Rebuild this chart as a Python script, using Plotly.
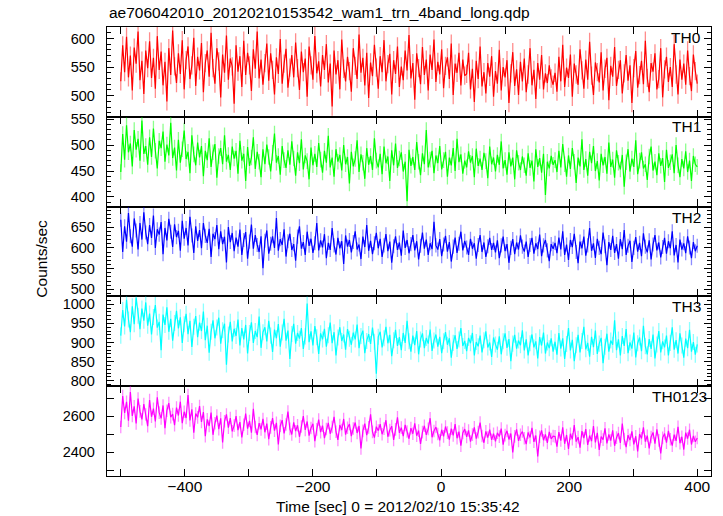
import plotly.graph_objects as go
from plotly.subplots import make_subplots

# ---------------- data ----------------
time_start, time_stop, time_step = -500, 400, 3
time_sec = list(range(time_start, time_stop + 1, time_step))

th0 = [525, 588, 541, 603, 532, 570, 509, 584, 556, 612, 527, 561, 503, 579, 548,
       595, 531, 566, 512, 604, 545, 577, 518, 559, 490, 583, 536, 614, 551, 522,
       574, 538, 597, 511, 562, 586, 529, 553, 601, 517, 568, 544, 592, 506, 557,
       579, 533, 610, 548, 521, 583, 560, 497, 572, 540, 605, 528, 565, 551, 486,
       588, 542, 569, 515, 596, 536, 575, 553, 508, 581, 547, 612, 530, 563, 519,
       557, 591, 526, 574, 545, 502, 567, 538, 599, 521, 556, 582, 514, 549, 571,
       532, 593, 548, 510, 577, 541, 565, 498, 586, 553, 528, 604, 539, 560, 516,
       571, 545, 590, 523, 556, 481, 579, 537, 562, 511, 598, 547, 525, 568, 543,
       507, 583, 552, 529, 607, 540, 566, 518, 575, 496, 558, 534, 589, 549, 512,
       569, 541, 597, 525, 555, 573, 502, 562, 538, 586, 515, 551, 527, 579, 544,
       606, 530, 557, 493, 574, 548, 520, 585, 536, 563, 509, 572, 545, 598, 524,
       559, 537, 581, 513, 552, 567, 529, 591, 501, 556, 540, 575, 518, 563, 535,
       538, 575, 511, 547, 489, 561, 529, 586, 516, 541, 504, 557, 533, 569, 498,
       543, 521, 580, 509, 550, 532, 562, 487, 539, 576, 517, 546, 501, 559, 525,
       565, 506, 537, 583, 518, 545, 494, 557, 528, 571, 511, 539, 522, 553, 530,
       519, 540, 507, 568, 525, 589, 515, 549, 531, 572, 498, 556, 537, 519, 581,
       544, 512, 563, 528, 594, 535, 501, 558, 541, 523, 576, 509, 547, 566, 492,
       552, 533, 585, 517, 545, 562, 504, 539, 571, 526, 553, 487, 548, 578, 514,
       536, 561, 520, 596, 531, 506, 557, 542, 574, 511, 529, 583, 497, 546, 568,
       524, 550, 515, 590, 537, 502, 563, 528, 556, 519, 579, 534, 508, 572, 543,
       521]

th1 = [448, 521, 472, 538, 486, 503, 459, 529, 491, 512, 470, 547, 483, 498, 462,
       515, 477, 532, 489, 455, 508, 494, 526, 468, 501, 480, 543, 475, 495, 451,
       510, 466, 492, 528, 473, 487, 446, 519, 482, 461, 505, 476, 498, 440, 489,
       471, 513, 458, 486, 502, 437, 479, 494, 463, 519, 468, 481, 452, 497, 474,
       489, 445, 508, 470, 483, 431, 496, 460, 476, 515, 454, 487, 468, 438, 492,
       463, 501, 477, 449, 485, 522, 466, 479, 443, 498, 471, 456, 490, 462, 507,
       474, 441, 486, 465, 511, 453, 480, 469, 434, 495, 461, 483, 458, 504, 472,
       447, 489, 466, 518, 457, 476, 439, 492, 468, 481, 451, 500, 463, 477, 426,
       487, 459, 473, 509, 448, 482, 466, 435, 494, 462, 479, 452, 513, 470, 457,
       483, 444, 497, 465, 478, 431, 490, 461, 503, 456, 474, 486, 449, 468, 392,
       491, 460, 477, 452, 506, 468, 442, 484, 463, 529, 457, 472, 489, 446, 480,
       465, 498, 453, 471, 487, 439, 476, 461, 494, 450, 512, 467, 482, 445, 470,
       457, 488, 466, 479, 438, 493, 460, 474, 452, 485, 469, 436, 497, 463, 476,
       449, 481, 462, 507, 455, 471, 443, 486, 459, 476, 434, 490, 466, 452, 478,
       461, 441, 484, 456, 470, 430, 492, 458, 475, 447, 483, 404, 468, 455, 479,
       462, 471, 448, 489, 457, 502, 463, 439, 480, 454, 494, 468, 427, 476, 459,
       511, 452, 473, 441, 487, 465, 498, 450, 469, 432, 483, 461, 477, 445, 505,
       458, 472, 437, 490, 466, 453, 481, 420, 467, 492, 449, 474, 458, 509, 444,
       470, 486, 455, 463, 433, 478, 497, 451, 468, 442, 484, 460, 475, 429, 491,
       456, 467, 482, 446, 500, 461, 438, 473, 455, 488, 448, 470, 431, 479, 463,
       458]

th2 = [668, 590, 652, 615, 684, 628, 603, 671, 642, 596, 660, 620, 686, 637, 609,
       655, 624, 678, 600, 645, 632, 662, 585, 648, 618, 670, 639, 602, 657, 626,
       641, 593, 665, 622, 648, 606, 675, 630, 588, 652, 617, 643, 599, 660, 629,
       612, 646, 578, 634, 621, 655, 597, 640, 609, 627, 565, 650, 614, 636, 592,
       625, 603, 644, 583, 619, 638, 574, 615, 656, 598, 631, 607, 590, 628, 551,
       617, 642, 586, 610, 628, 600, 672, 593, 621, 607, 645, 579, 616, 634, 595,
       609, 569, 627, 652, 598, 614, 583, 639, 605, 622, 588, 611, 660, 594, 618,
       601, 633, 575, 612, 595, 648, 606, 584, 624, 599, 616, 561, 630, 603, 619,
       589, 614, 640, 596, 608, 573, 627, 602, 655, 593, 617, 585, 611, 636, 599,
       622, 578, 606, 633, 592, 615, 564, 604, 628, 595, 613, 581, 642, 600, 619,
       587, 609, 631, 594, 616, 572, 605, 637, 598, 620, 583, 611, 597, 663, 606,
       596, 621, 580, 608, 629, 591, 614, 567, 603, 625, 588, 610, 639, 594, 617,
       601, 583, 622, 598, 611, 574, 607, 631, 590, 613, 578, 604, 624, 595, 612,
       589, 618, 575, 606, 627, 592, 609, 564, 600, 621, 585, 613, 596, 630, 603,
       591, 615, 578, 607, 624, 586, 611, 597, 632, 580, 606, 619, 594, 568, 609,
       598, 612, 587, 625, 596, 640, 583, 608, 571, 619, 602, 634, 590, 563, 615,
       599, 627, 581, 606, 648, 593, 611, 576, 622, 600, 585, 637, 604, 558, 614,
       595, 629, 588, 609, 574, 621, 597, 643, 583, 605, 617, 566, 600, 626, 591,
       612, 580, 635, 603, 589, 618, 572, 608, 631, 594, 613, 577, 602, 624, 586,
       616, 599, 640, 582, 607, 565, 620, 596, 611, 587, 628, 601, 575, 614, 592,
       605]

th3 = [918, 985, 942, 1012, 960, 927, 995, 948, 1018, 970, 935, 989, 957, 1005, 944,
       976, 921, 967, 998, 939, 954, 880, 973, 946, 992, 928, 962, 905, 951, 983,
       937, 966, 899, 948, 975, 922, 957, 888, 941, 969, 914, 952, 930, 981, 906,
       944, 873, 928, 958, 911, 939, 965, 897, 932, 949, 842, 921, 954, 903, 936,
       917, 960, 892, 938, 908, 946, 871, 925, 953, 899, 930, 914, 968, 886, 927,
       940, 903, 957, 918, 875, 934, 911, 948, 889, 926, 962, 905, 931, 857, 922,
       949, 897, 925, 910, 938, 883, 916, 1002, 901, 929, 892, 943, 914, 870, 924,
       908, 936, 889, 919, 952, 898, 927, 866, 913, 940, 904, 921, 881, 935, 910,
       894, 926, 908, 947, 885, 917, 931, 872, 904, 922, 896, 939, 902, 818, 915,
       928, 887, 911, 941, 898, 920, 864, 906, 933, 891, 914, 880, 925, 899, 957,
       903, 876, 918, 893, 930, 869, 908, 924, 885, 912, 897, 934, 878, 905, 921,
       889, 915, 872, 903, 927, 894, 911, 860, 899, 919, 883, 908, 938, 891, 904,
       877, 912, 898, 925, 866, 901, 890, 918, 874, 906, 929, 887, 900, 862, 913,
       895, 881, 916, 869, 903, 924, 886, 909, 851, 897, 920, 884, 905, 893, 932,
       879, 908, 866, 898, 921, 887, 903, 858, 914, 892, 926, 871, 900, 885, 911,
       876, 902, 868, 925, 884, 911, 857, 896, 938, 879, 907, 851, 893, 920, 874,
       904, 941, 882, 899, 863, 915, 888, 931, 870, 897, 912, 846, 889, 923, 876,
       905, 894, 958, 880, 908, 866, 917, 891, 935, 872, 900, 884, 926, 861, 898,
       913, 877, 944, 890, 869, 909, 883, 921, 858, 895, 930, 874, 903, 887, 918,
       866, 899, 940, 881, 906, 871, 924, 892, 860, 910, 885, 933, 876, 901, 868,
       895]

th0123 = [2540, 2712, 2618, 2680, 2575, 2735, 2602, 2655, 2560, 2698, 2627, 2583, 2668, 2610, 2545,
          2690, 2597, 2642, 2571, 2705, 2620, 2588, 2660, 2534, 2631, 2673, 2595, 2612, 2550, 2648,
          2604, 2681, 2562, 2625, 2590, 2718, 2577, 2639, 2508, 2615, 2594, 2657, 2568, 2623, 2489,
          2583, 2546, 2620, 2497, 2561, 2604, 2528, 2589, 2455, 2572, 2610, 2537, 2590, 2516, 2548,
          2601, 2523, 2567, 2482, 2553, 2615, 2531, 2574, 2509, 2642, 2540, 2496, 2562, 2527, 2585,
          2511, 2559, 2473, 2538, 2590, 2520, 2563, 2444, 2547, 2578, 2505, 2554, 2626, 2530, 2499,
          2566, 2517, 2550, 2486, 2543, 2601, 2524, 2571, 2492, 2535, 2558, 2461, 2527, 2582, 2512,
          2548, 2478, 2529, 2563, 2503, 2540, 2597, 2514, 2469, 2551, 2523, 2585, 2498, 2536, 2557,
          2490, 2532, 2565, 2507, 2546, 2421, 2519, 2559, 2495, 2538, 2611, 2513, 2481, 2542, 2520,
          2556, 2500, 2531, 2578, 2486, 2523, 2545, 2469, 2527, 2594, 2508, 2537, 2489, 2552, 2515,
          2475, 2534, 2503, 2561, 2492, 2520, 2446, 2512, 2547, 2497, 2530, 2589, 2483, 2518, 2540,
          2501, 2466, 2525, 2488, 2543, 2509, 2470, 2531, 2494, 2557, 2478, 2515, 2436, 2507, 2529,
          2485, 2521, 2459, 2498, 2538, 2476, 2512, 2565, 2490, 2453, 2516, 2481, 2526, 2469, 2503,
          2460, 2508, 2487, 2531, 2442, 2495, 2519, 2471, 2504, 2399, 2488, 2527, 2463, 2497, 2515,
          2478, 2445, 2510, 2482, 2536, 2458, 2493, 2377, 2486, 2521, 2467, 2499, 2452, 2513, 2474,
          2490, 2488, 2431, 2512, 2465, 2539, 2447, 2496, 2418, 2503, 2472, 2551, 2459, 2484, 2426,
          2517, 2478, 2529, 2441, 2493, 2462, 2545, 2455, 2508, 2413, 2487, 2470, 2533, 2449, 2499,
          2465, 2522, 2436, 2481, 2507, 2452, 2560, 2474, 2428, 2495, 2468, 2516, 2444, 2489, 2405,
          2501, 2477, 2538, 2459, 2492, 2421, 2485, 2510, 2448, 2527, 2466, 2393, 2480, 2504, 2453,
          2519, 2472, 2437, 2498, 2463, 2541, 2450, 2486, 2415, 2509, 2476, 2525, 2443, 2491, 2458,
          2479]

# typical 1-sigma error bar of each band (counts/sec)
panel_errors = [16, 15, 17, 21, 35]

panel_names = ["TH0", "TH1", "TH2", "TH3", "TH0123"]
panel_values = [th0, th1, th2, th3, th0123]
panel_colors = ["#ff0000", "#00ff00", "#0000ff", "#00ffff", "#ff00ff"]
panel_err_colors = ["rgba(255,0,0,0.45)", "rgba(0,255,0,0.45)", "rgba(0,0,255,0.45)",
                    "rgba(0,255,255,0.45)", "rgba(255,0,255,0.45)"]
panel_ranges = [[463, 620], [381.5, 554.4], [483, 699.5], [785.4, 1020.8], [2268, 2767]]
panel_tickvals = [[500, 550, 600], [400, 450, 500, 550], [500, 550, 600, 650],
                  [800, 850, 900, 950, 1000], [2300, 2400, 2500, 2600, 2700]]
panel_ticktext = [["500", "550", "600"], ["400", "450", "500", "550"],
                  ["500", "550", "600", "650"], ["800", "850", "900", "950", "1000"],
                  ["", "2400", "", "2600", ""]]
x_tickvals = [-500, -400, -300, -200, -100, 0, 100, 200, 300, 400]
x_ticktext = ["", "\u2212400", "", "\u2212200", "", "0", "", "200", "", "400"]

title_text = "ae706042010_20120210153542_wam1_trn_4band_long.qdp"
xtitle_text = "Time [sec] 0 = 2012/02/10 15:35:42"
ytitle_text = "Counts/sec"

# ---------------- layout geometry (pixels) ----------------
W, H = 723, 516
L, R, T, B = 106.7, 711.0, 27.3, 476.0
FONT = "Liberation Sans, Arial, Helvetica, sans-serif"


def px_x(x):
    return (x - L) / (R - L)


def px_y(y):
    return (B - y) / (B - T)


fig = make_subplots(rows=5, cols=1, shared_xaxes=True, vertical_spacing=0)

for i, (vals, col) in enumerate(zip(panel_values, panel_colors)):
    fig.add_trace(go.Scatter(x=time_sec, y=vals, mode="lines",
                             line=dict(color=col, width=1.2), showlegend=False,
                             error_y=dict(type="constant", value=panel_errors[i],
                                          color=panel_err_colors[i], thickness=1.3,
                                          width=0),
                             hoverinfo="skip"), row=i + 1, col=1)

axis_common = dict(showline=True, linecolor="#000000", linewidth=1.3, mirror="allticks",
                   ticks="inside", tickcolor="#000000", showgrid=False, zeroline=False)

for i in range(5):
    fig.update_xaxes(row=i + 1, col=1, range=[-521.5, 421.5], tickvals=x_tickvals,
                     ticktext=x_ticktext, ticklen=7, tickwidth=1.2,
                     tickfont=dict(family=FONT, size=15.5, color="#000000"),
                     **axis_common)
    fig.update_yaxes(row=i + 1, col=1, range=panel_ranges[i], tickvals=panel_tickvals[i],
                     ticktext=panel_ticktext[i], ticklen=7, tickwidth=1.2,
                     ticklabelstandoff=8,
                     tickfont=dict(family=FONT, size=14.5, color="#000000"),
                     minor=dict(dtick=10, ticklen=4, ticks="inside", tickcolor="#000000",
                                tickwidth=1, showgrid=False) if i < 4 else
                     dict(ticks=""),
                     **axis_common)
fig.update_xaxes(row=5, col=1, showticklabels=True, ticklabelstandoff=-4)

annotations = [
    dict(text=title_text, x=px_x(106.7), y=px_y(12.8), xanchor="left", yanchor="middle",
         font=dict(family=FONT, size=15.5, color="#000000")),
    dict(text=xtitle_text, x=px_x(398), y=px_y(506.5), xanchor="center", yanchor="middle",
         font=dict(family=FONT, size=15.5, color="#000000")),
    dict(text=ytitle_text, x=px_x(41.5), y=px_y(259), xanchor="center", yanchor="middle",
         textangle=-90, font=dict(family=FONT, size=15.5, color="#000000")),
]
panel_tops = [27.3, 116.7, 207.0, 296.0, 386.3]
label_right = [703, 703, 703, 703, 709]
for name, top, rx in zip(panel_names, panel_tops, label_right):
    annotations.append(dict(text=name, x=px_x(rx), y=px_y(top + 10.5), xanchor="right",
                            yanchor="middle",
                            font=dict(family=FONT, size=15.5, color="#000000")))
for a in annotations:
    a.update(xref="paper", yref="paper", showarrow=False)

fig.update_layout(width=W, height=H, margin=dict(l=L, r=W - R, t=T, b=H - B),
                  paper_bgcolor="#ffffff", plot_bgcolor="#ffffff",
                  annotations=annotations, showlegend=False)

# remove the browser's default page margin so the figure sits at the window corner
fig.write_html("out.html", config={"displayModeBar": False},
               post_script="document.body.style.margin='0';")
